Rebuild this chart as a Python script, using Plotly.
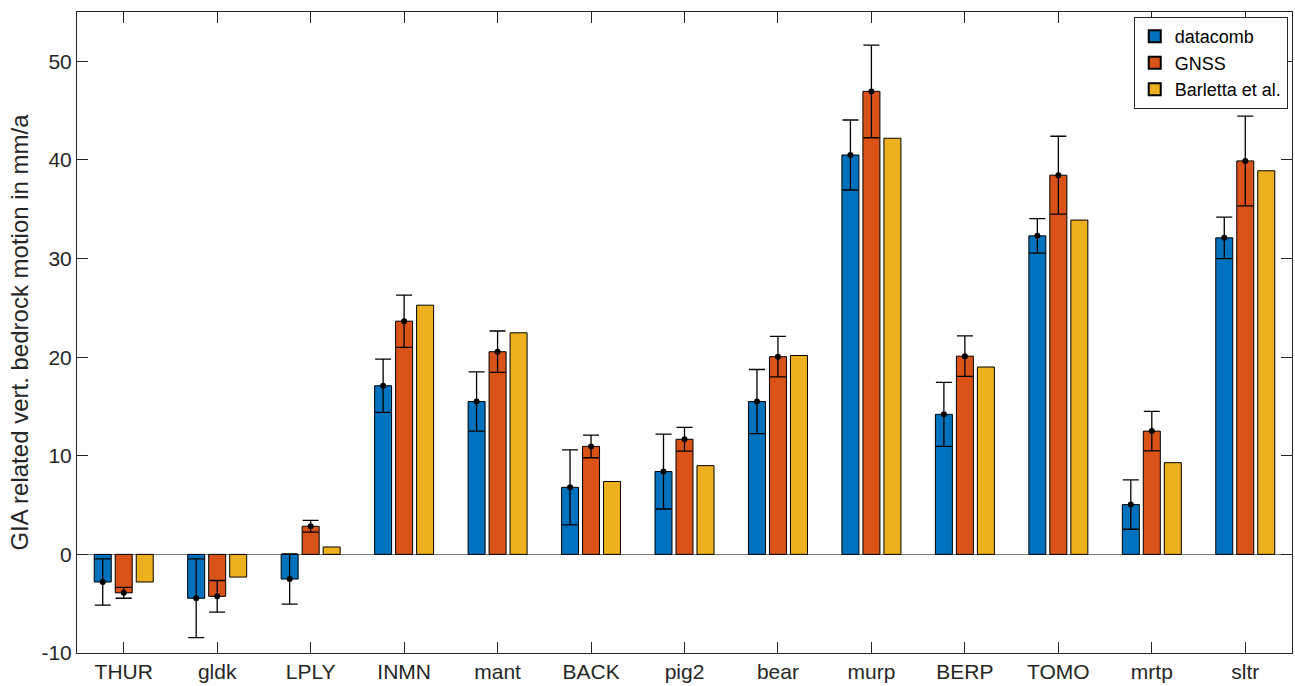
import plotly.graph_objects as go

stations = ["THUR", "gldk", "LPLY", "INMN", "mant", "BACK", "pig2", "bear",
            "murp", "BERP", "TOMO", "mrtp", "sltr"]

datacomb = [-2.8, -4.45, -2.5, 17.1, 15.5, 6.8, 8.4, 15.5, 40.5, 14.2, 32.3, 5.05, 32.1]
datacomb_err = [2.35, 4.0, 2.55, 2.7, 3.0, 3.8, 3.8, 3.25, 3.55, 3.25, 1.75, 2.5, 2.1]

gnss = [-3.9, -4.25, 2.85, 23.65, 20.55, 10.95, 11.67, 20.05, 46.95, 20.1, 38.45, 12.5, 39.9]
gnss_err = [0.55, 1.6, 0.6, 2.65, 2.1, 1.15, 1.2, 2.05, 4.7, 2.05, 3.95, 2.0, 4.55]

barletta = [-2.8, -2.3, 0.75, 25.27, 22.47, 7.39, 9.0, 20.17, 42.2, 19.0, 33.9, 9.3, 38.9]

ytick_vals = [-10, 0, 10, 20, 30, 40, 50]
ytick_text = ["-10", "0", "10", "20", "30", "40", "50"]

series = [
    ("datacomb", datacomb, datacomb_err, "#0072BD"),
    ("GNSS", gnss, gnss_err, "#D95319"),
    ("Barletta et al.", barletta, None, "#EDB120"),
]

FONT = "Liberation Sans, Arial, Helvetica, sans-serif"
AX = "#262626"

fig = go.Figure()
for i, (name, vals, err, col) in enumerate(series):
    kw = {}
    if err is not None:
        kw["error_y"] = dict(type="data", array=err, visible=True, color="black",
                             thickness=1.3, width=8)
    fig.add_trace(go.Bar(x=stations, y=vals, name=name, marker_color=col,
                         marker_line_color="black", marker_line_width=1,
                         offsetgroup=str(i), alignmentgroup="a", **kw))

for i, (name, vals, err, col) in enumerate(series):
    fig.add_trace(go.Scatter(x=stations, y=vals, mode="markers", showlegend=False,
                             offsetgroup=str(i), alignmentgroup="a",
                             marker=dict(color="black", size=6,
                                         opacity=1 if err is not None else 0),
                             hoverinfo="skip"))

fig.update_layout(
    width=1295, height=686,
    margin=dict(l=77, r=3, t=12, b=33),
    paper_bgcolor="white", plot_bgcolor="white",
    barmode="group", bargap=0.326, bargroupgap=0.19,
    scattermode="group", scattergap=0.326,
    font=dict(family=FONT, size=21, color=AX),
    showlegend=True,
    legend=dict(x=0.9965, y=0.992, xanchor="right", yanchor="top",
                bordercolor=AX, borderwidth=1, bgcolor="white",
                font=dict(size=18, color="black"), tracegroupgap=0,
                itemsizing="constant", itemwidth=30),
)

fig.update_xaxes(
    range=[-0.5, 12.5], showline=True, linecolor=AX, linewidth=1, mirror="ticks",
    ticks="inside", ticklen=11, tickcolor=AX, showgrid=False,
    tickfont=dict(size=21, color=AX),
)
fig.update_yaxes(
    range=[-10, 55], tickvals=ytick_vals, ticktext=ytick_text,
    showline=True, linecolor=AX, linewidth=1, mirror="ticks",
    ticks="inside", ticklen=11, tickcolor=AX, showgrid=False,
    zeroline=True, zerolinecolor="#7a7a7a", zerolinewidth=1.3,
    tickfont=dict(size=21, color=AX),
    title=dict(text="GIA related vert. bedrock motion in mm/a",
               font=dict(size=24, color=AX), standoff=6),
    automargin=False,
)

fig.write_html("out.html")
